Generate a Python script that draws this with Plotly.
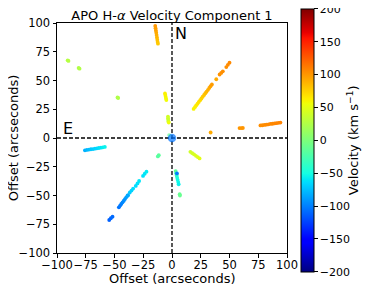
import plotly.graph_objects as go

# --- data (offsets in arcsec, velocity in km/s) ---
seg_n_x = [-14.6, -14.3, -14.0, -13.7, -13.4, -13.1, -12.8, -12.5, -12.2]
seg_n_y = [97.5, 95.5, 93.5, 91.5, 89.5, 87.5, 85.5, 83.5, 82.0]
seg_n_v = [100, 98, 96, 93, 90, 87, 84, 81, 79]

seg_c_x = [-6.1, -5.8, -5.5, -5.2, -4.9, -3.5, -3.4, -3.3, -3.1, -2.8]
seg_c_y = [38.8, 37.3, 35.8, 34.3, 33.0, 18.6, 17.2, 15.8, 14.3, 13.5]
seg_c_v = [62, 61, 60, 58, 57, 42, 40, 38, 36, 55]

dots_nw_x = [-90.7, -90.0, -81.2, -80.4, -47.4, -46.8]
dots_nw_y = [67.5, 67.0, 60.9, 60.3, 35.3, 34.8]
dots_nw_v = [28, 28, 26, 26, 25, 25]

seg_ne_x = [18.8, 19.9, 21.0, 22.2, 23.3, 24.5, 25.6, 26.7, 27.9, 29.0, 30.1, 31.3, 32.4, 33.5, 34.7,
            38.5, 41.4, 42.8, 44.2, 47.2, 48.6, 50.0]
seg_ne_y = [25.3, 26.8, 28.3, 29.8, 31.3, 32.9, 34.4, 35.9, 37.4, 38.9, 40.4, 41.9, 43.5, 45.0, 46.5,
            51.1, 55.2, 56.6, 58.0, 61.7, 63.6, 65.5]
seg_ne_v = [60, 62, 64, 66, 68, 71, 74, 77, 80, 83, 86, 89, 92, 95, 98,
            92, 102, 103, 104, 104, 105, 106]

seg_e_x = [33.6, 58.7, 60.2, 61.6, 76.9, 78.6, 80.4, 82.1, 83.9, 85.6, 87.4, 89.1, 90.8, 92.6, 94.3]
seg_e_y = [4.8, 8.6, 8.6, 8.7, 10.9, 11.1, 11.4, 11.6, 11.9, 12.2, 12.4, 12.7, 12.9, 13.2, 13.4]
seg_e_v = [92, 100, 101, 101, 104, 104, 105, 105, 106, 106, 107, 107, 108, 108, 109]

seg_w_x = [-75.7, -74.0, -72.2, -70.5, -68.7, -67.0, -65.3, -63.6, -61.8, -60.1, -58.4]
seg_w_y = [-10.7, -10.4, -10.1, -9.8, -9.6, -9.3, -9.0, -8.7, -8.4, -8.1, -7.8]
seg_w_v = [-80, -78, -75, -72, -70, -67, -65, -62, -60, -57, -55]

seg_sw_x = [-11.5, -12.3, -25.2, -23.7, -22.2, -31.5, -30.0, -28.6, -36.7, -35.2, -33.8,
            -46.2, -45.1, -44.1, -43.0, -41.9, -40.9, -39.8, -38.7, -38.2, -54.6, -53.2, -51.7]
seg_sw_y = [-15.0, -16.0, -33.0, -31.1, -29.3, -41.7, -39.5, -37.4, -47.4, -45.7, -44.0,
            -60.3, -58.8, -57.4, -55.9, -54.5, -53.1, -51.6, -50.2, -49.7, -71.3, -69.8, -68.4]
seg_sw_v = [-15, -18, -62, -60, -58, -64, -62, -60, -70, -67, -64,
            -105, -102, -100, -97, -95, -92, -88, -85, -84, -112, -110, -108]

seg_se_x = [16.0, 17.6, 19.2, 20.8, 22.4, 24.0]
seg_se_y = [-12.0, -13.2, -14.3, -15.5, -16.6, -17.8]
seg_se_v = [40, 42, 44, 46, 48, 50]

seg_s_x = [3.2, 3.6, 4.1, 4.5, 4.9, 5.4, 5.8, 4.3, 6.7, 6.9]
seg_s_y = [-28.8, -30.7, -32.6, -34.5, -36.4, -38.3, -40.2, -30.8, -48.9, -50.0]
seg_s_v = [-15, -25, -35, -45, -50, -52, -55, -100, -10, -10]

center_x = [-2.5, 0.0]
center_y = [2.5, 0.0]
center_v = [-10, -105]

x_ticks = [-100, -75, -50, -25, 0, 25, 50, 75, 100]
y_ticks = [-100, -75, -50, -25, 0, 25, 50, 75, 100]
cbar_ticks = [-200, -150, -100, -50, 0, 50, 100, 150, 200]
cbar_labels = ["−200", "−150", "−100", "−50", "0", "50", "100", "150", "200"]

# matplotlib 'jet'
jet = [
    [0.0, "rgb(0,0,128)"], [0.11, "rgb(0,0,255)"], [0.125, "rgb(0,0,255)"],
    [0.34, "rgb(0,219,255)"], [0.35, "rgb(0,230,247)"], [0.375, "rgb(21,255,226)"],
    [0.64, "rgb(239,255,8)"], [0.65, "rgb(247,245,0)"], [0.66, "rgb(255,236,0)"],
    [0.89, "rgb(255,19,0)"], [0.91, "rgb(232,0,0)"], [1.0, "rgb(128,0,0)"],
]

FONT = "DejaVu Sans"
fig = go.Figure()

groups = [
    (seg_n_x, seg_n_y, seg_n_v), (seg_c_x, seg_c_y, seg_c_v), (dots_nw_x, dots_nw_y, dots_nw_v),
    (seg_ne_x, seg_ne_y, seg_ne_v), (seg_e_x, seg_e_y, seg_e_v), (seg_w_x, seg_w_y, seg_w_v),
    (seg_sw_x, seg_sw_y, seg_sw_v), (seg_se_x, seg_se_y, seg_se_v), (seg_s_x, seg_s_y, seg_s_v),
]
for gx, gy, gv in groups:
    fig.add_trace(go.Scatter(x=gx, y=gy, mode="markers",
                             marker=dict(size=3.8, color=gv, coloraxis="coloraxis", line=dict(width=0)),
                             showlegend=False, hoverinfo="skip"))
fig.add_trace(go.Scatter(x=center_x, y=center_y, mode="markers",
                         marker=dict(size=[3.8, 8.5], color=center_v, coloraxis="coloraxis", line=dict(width=0)),
                         showlegend=False, hoverinfo="skip"))

axis_common = dict(range=[-100, 100], showline=True, linecolor="black", linewidth=1, mirror=True,
                   ticks="outside", ticklen=3.5, tickwidth=1, tickcolor="black", tickangle=0,
                   showgrid=False, zeroline=False, automargin=False,
                   tickfont=dict(family=FONT, size=11.5, color="black"))

# the page body has an 8px margin, so the figure is 8px smaller than the window
fig.update_layout(
    width=366, height=281,
    margin=dict(l=49, r=87, t=15, b=36, autoexpand=False),
    paper_bgcolor="white", plot_bgcolor="white",
    font=dict(family=FONT, color="black"),
    title=dict(text="APO H-<i>α</i> Velocity Component 1", x=0.5, xref="paper", xanchor="center",
               y=1, yref="paper", yanchor="bottom", pad=dict(b=3),
               font=dict(family=FONT, size=13, color="black")),
    xaxis=dict(axis_common, tickvals=x_ticks, ticklabelstandoff=-2),
    yaxis=dict(axis_common, tickvals=y_ticks),
    coloraxis=dict(cmin=-200, cmax=200, colorscale=jet,
                   colorbar=dict(thickness=13, thicknessmode="pixels", len=263, lenmode="pixels",
                                 x=1.063, xanchor="left", xpad=0, y=0.49, yanchor="middle", ypad=0,
                                 outlinewidth=1, outlinecolor="black",
                                 tickmode="array", tickvals=cbar_ticks, ticktext=cbar_labels,
                                 ticklabeloverflow="allow",
                                 ticks="outside", ticklen=3.5, tickcolor="black",
                                 tickfont=dict(family=FONT, size=11, color="black"),
                                 title=dict(text="Velocity (km s<sup>−1</sup>)", side="right",
                                            font=dict(family=FONT, size=13, color="black")))),
    shapes=[
        dict(type="line", xref="x", yref="y", x0=0, x1=0, y0=-100, y1=100,
             line=dict(color="black", width=1.3, dash="4px,2px"), layer="below"),
        dict(type="line", xref="x", yref="y", x0=-100, x1=100, y0=0, y1=0,
             line=dict(color="black", width=1.3, dash="4px,2px"), layer="below"),
    ],
    annotations=[
        dict(text="N", x=1.5, y=81.5, xref="x", yref="y", xanchor="left", yanchor="bottom",
             showarrow=False, font=dict(family=FONT, size=16, color="black"), borderpad=0),
        dict(text="E", x=-96, y=-0.5, xref="x", yref="y", xanchor="left", yanchor="bottom",
             showarrow=False, font=dict(family=FONT, size=16, color="black"), borderpad=0),
        dict(text="Offset (arcseconds)", x=0.5, y=-0.11, xref="paper", yref="paper",
             xanchor="center", yanchor="middle", showarrow=False,
             font=dict(family=FONT, size=13, color="black")),
        dict(text="Offset (arcseconds)", x=-0.19, y=0.5, xref="paper", yref="paper",
             xanchor="center", yanchor="middle", textangle=-90, showarrow=False,
             font=dict(family=FONT, size=13, color="black")),
    ],
)

fig.write_html("out.html")
